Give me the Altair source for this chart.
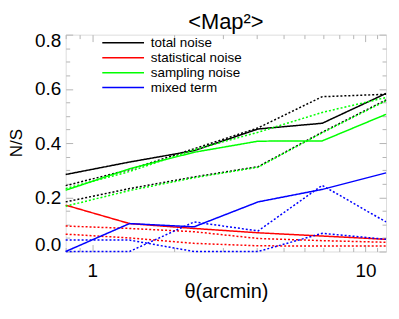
import altair as alt
import pandas as pd

# --- data ---
theta = [0.8, 1.37, 2.36, 4.05, 6.95, 11.9]

components = ["total noise", "statistical noise", "sampling noise", "mixed term"]
colors = ["#000000", "#ff0000", "#00ff00", "#0000ff"]
variants = ["solid", "dotted A", "dotted B"]

total_solid = [0.284, 0.330, 0.372, 0.452, 0.473, 0.583]
total_dotA = [0.243, 0.302, 0.379, 0.456, 0.571, 0.580]
total_dotB = [0.183, 0.232, 0.275, 0.313, 0.440, 0.559]

stat_solid = [0.171, 0.103, 0.085, 0.069, 0.057, 0.045]
stat_dotA = [0.094, 0.085, 0.073, 0.048, 0.040, 0.034]
stat_dotB = [0.064, 0.050, 0.030, 0.021, 0.020, 0.020]

samp_solid = [0.226, 0.305, 0.366, 0.407, 0.408, 0.506]
samp_dotA = [0.232, 0.295, 0.375, 0.440, 0.513, 0.568]
samp_dotB = [0.167, 0.225, 0.272, 0.311, 0.438, 0.556]

mixed_solid = [0.0, 0.103, 0.091, 0.183, 0.229, 0.290]
mixed_dotA = [0.0, 0.0, 0.109, 0.076, 0.244, 0.109]
mixed_dotB = [0.042, 0.042, 0.0, 0.0, 0.067, 0.045]

y_major = [0.0, 0.2, 0.4, 0.6, 0.8]
y_minor = [0.05, 0.1, 0.15, 0.25, 0.3, 0.35, 0.45, 0.5, 0.55, 0.65, 0.7, 0.75]
x_major = [1, 10]
x_minor = [0.8, 0.9, 2, 3, 4, 5, 6, 7, 8, 9, 11]

chart_title = ["<Map²>"]
y_title = ["N/S"]
x_title = "θ(arcmin)"

series = {
    ("total noise", "solid"): total_solid,
    ("total noise", "dotted A"): total_dotA,
    ("total noise", "dotted B"): total_dotB,
    ("statistical noise", "solid"): stat_solid,
    ("statistical noise", "dotted A"): stat_dotA,
    ("statistical noise", "dotted B"): stat_dotB,
    ("sampling noise", "solid"): samp_solid,
    ("sampling noise", "dotted A"): samp_dotA,
    ("sampling noise", "dotted B"): samp_dotB,
    ("mixed term", "solid"): mixed_solid,
    ("mixed term", "dotted A"): mixed_dotA,
    ("mixed term", "dotted B"): mixed_dotB,
}

rows = []
for (comp, var), vals in series.items():
    for t, v in zip(theta, vals):
        rows.append({"theta": t, "ns": v, "component": comp, "variant": var,
                     "key": comp + " " + var})
df = pd.DataFrame(rows)

FONT = "Liberation Sans"
GRAY = "#b4b4b4"
W, H = 322, 218

xs = alt.Scale(type="log", domain=[0.8, 11.9], nice=False)
ys = alt.Scale(domain=[0, 0.8], nice=False, zero=False)

lines = alt.Chart(df).mark_line(strokeWidth=1.5).encode(
    x=alt.X("theta:Q", scale=xs,
            axis=alt.Axis(orient="bottom", values=x_major, format="d", ticks=False,
                          domain=False, grid=False, labelFontSize=19, labelPadding=10,
                          labelFont=FONT, labelColor="#000", title=x_title,
                          titleFont=FONT, titleFontSize=20, titleFontWeight="normal",
                          titleBaseline="alphabetic", titleY=46.5, titleColor="#000")),
    y=alt.Y("ns:Q", scale=ys,
            axis=alt.Axis(orient="left", values=y_major, format=".1f", ticks=False,
                          domain=False, grid=False, labelFontSize=19, labelPadding=5,
                          labelFont=FONT, labelColor="#000", labelFlush=True,
                          labelFlushOffset=3, title=None)),
    color=alt.Color("component:N", scale=alt.Scale(domain=components, range=colors),
                    legend=alt.Legend(orient="none", legendX=51, legendY=1.5,
                                      title=None, symbolType="M-4,0H4", symbolSize=110,
                                      symbolStrokeWidth=1.5, labelFontSize=13.5,
                                      labelFont=FONT, labelOffset=21, rowPadding=0,
                                      padding=0, labelLimit=300)),
    strokeDash=alt.StrokeDash("variant:N",
                              scale=alt.Scale(domain=variants, range=[[1, 0], [2, 2], [2, 2]]),
                              legend=None),
    detail="key:N",
    order="theta:Q",
)


def tick_layer(orient, values, size):
    ax = alt.Axis(orient=orient, values=values, offset=-size, tickSize=size,
                  labels=False, domain=False, grid=False, title=None,
                  tickColor=GRAY, tickWidth=1)
    if orient in ("left", "right"):
        enc = dict(x=alt.X("theta:Q", scale=xs, axis=None),
                   y=alt.Y("ns:Q", scale=ys, axis=ax))
    else:
        enc = dict(x=alt.X("theta:Q", scale=xs, axis=ax),
                   y=alt.Y("ns:Q", scale=ys, axis=None))
    return alt.Chart(df).mark_point(opacity=0).encode(**enc)


title_text = alt.Chart(pd.DataFrame({"t": chart_title})).mark_text(
    font=FONT, fontSize=22, align="center", baseline="alphabetic", color="#000"
).encode(text="t:N", x=alt.value(W / 2), y=alt.value(-5.5))

ytitle_text = alt.Chart(pd.DataFrame({"t": y_title})).mark_text(
    font=FONT, fontSize=17, align="center", baseline="alphabetic", angle=270, color="#000"
).encode(text="t:N", x=alt.value(-44), y=alt.value(H / 2))

layers = [lines]
for o in ("left", "right"):
    layers.append(tick_layer(o, y_major, 7))
    layers.append(tick_layer(o, y_minor, 4))
for o in ("bottom", "top"):
    layers.append(tick_layer(o, x_major, 7))
    layers.append(tick_layer(o, x_minor, 4))
layers += [title_text, ytitle_text]

chart = alt.layer(*layers).resolve_axis(x="independent", y="independent").properties(
    width=W, height=H,
    autosize=alt.AutoSizeParams(type="none"),
    padding={"left": 58, "top": 26, "right": 5, "bottom": 50},
).configure_view(stroke=GRAY, strokeWidth=1).configure(background="white")

chart.save("out.html", embed_options={"renderer": "svg", "actions": False})
